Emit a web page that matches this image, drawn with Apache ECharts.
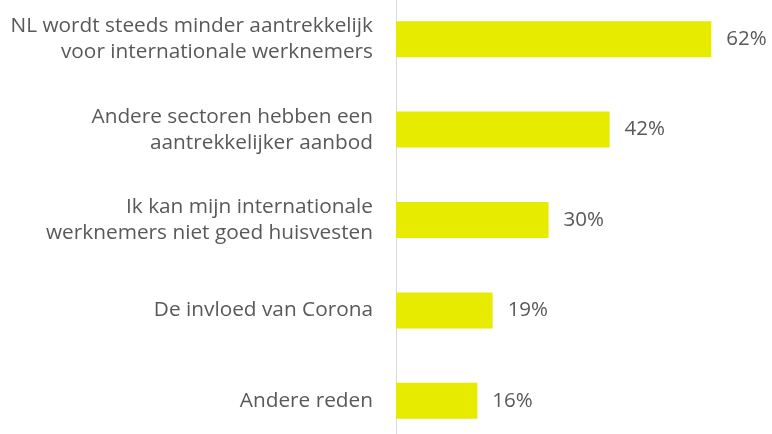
<!DOCTYPE html>
<html>
<head>
<meta charset="utf-8">
<script src="https://cdn.jsdelivr.net/npm/echarts@6/dist/echarts.min.js"></script>
<style>
    html, body { margin: 0; padding: 0; background: #fff; }
    #main { width: 772px; height: 434px; }
</style>
</head>
<body>
<div id="main"></div>
<script>
    // categories top to bottom
    var categories = [
        'NL wordt steeds minder aantrekkelijk\nvoor internationale werknemers',
        'Andere sectoren hebben een\naantrekkelijker aanbod',
        'Ik kan mijn internationale\nwerknemers niet goed huisvesten',
        'De invloed van Corona',
        'Andere reden'
    ];
    var values = [62, 42, 30, 19, 16];

    var myChart = echarts.init(document.getElementById('main'));
    var option = {
        animation: false,
        grid: {
            left: 396,
            right: 20,
            top: -6,
            height: 452,
            outerBoundsMode: 'none'
        },
        xAxis: {
            type: 'value',
            min: 0,
            max: 70,
            show: false
        },
        yAxis: {
            type: 'category',
            inverse: true,
            data: categories,
            axisLine: {show: true, lineStyle: {color: '#d9d9d9', width: 1}},
            axisTick: {show: false},
            axisLabel: {
                margin: 23,
                color: '#595959',
                fontFamily: 'Open Sans',
                fontSize: 20.8,
                lineHeight: 26,
                align: 'right'
            }
        },
        series: [{
            type: 'bar',
            data: values,
            barWidth: 36,
            itemStyle: {color: '#e6eb00'},
            label: {
                show: true,
                position: 'right',
                distance: 15,
                color: '#595959',
                fontFamily: 'Open Sans',
                fontSize: 20.5,
                formatter: '{c}%'
            }
        }]
    };
    myChart.setOption(option);
</script>
</body>
</html>
